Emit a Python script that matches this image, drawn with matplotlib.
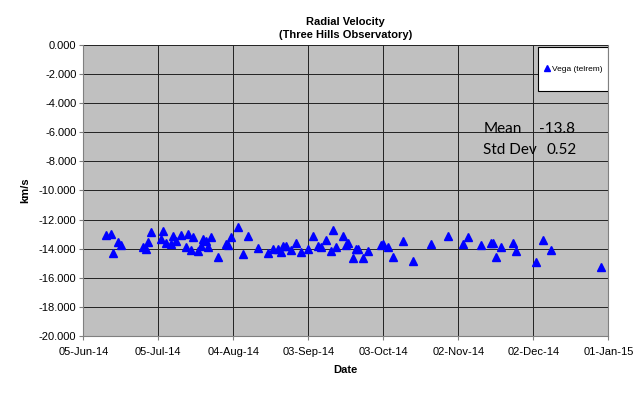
import matplotlib
matplotlib.use('Agg')
import matplotlib.pyplot as plt
import matplotlib.dates as mdates
from matplotlib.patches import Rectangle
import pandas as pd


# dates of the observations
obs_dates = [
    '2014-06-14', '2014-06-16', '2014-06-17', '2014-06-19', '2014-06-20', '2014-06-29', '2014-06-30',
    '2014-07-01', '2014-07-02', '2014-07-06', '2014-07-07', '2014-07-08', '2014-07-10', '2014-07-11',
    '2014-07-12', '2014-07-14', '2014-07-16', '2014-07-17', '2014-07-18', '2014-07-19', '2014-07-21',
    '2014-07-22', '2014-07-23', '2014-07-24', '2014-07-25', '2014-07-26', '2014-07-29', '2014-08-01',
    '2014-08-02', '2014-08-03', '2014-08-06', '2014-08-08', '2014-08-10', '2014-08-14', '2014-08-18',
    '2014-08-20', '2014-08-22', '2014-08-23', '2014-08-24', '2014-08-25', '2014-08-27', '2014-08-29',
    '2014-08-31', '2014-09-03', '2014-09-05', '2014-09-07', '2014-09-08', '2014-09-10', '2014-09-12',
    '2014-09-13', '2014-09-14', '2014-09-17', '2014-09-18', '2014-09-19', '2014-09-21', '2014-09-22',
    '2014-09-23', '2014-09-25', '2014-09-27', '2014-10-02', '2014-10-03', '2014-10-05', '2014-10-07',
    '2014-10-11', '2014-10-15', '2014-10-22', '2014-10-29', '2014-11-04', '2014-11-06', '2014-11-11',
    '2014-11-15', '2014-11-16', '2014-11-17', '2014-11-19', '2014-11-24', '2014-11-25', '2014-12-03',
    '2014-12-06', '2014-12-09', '2014-12-29',
]
# radial velocity, km/s
velocity = [
    -13.07, -12.96, -14.28, -13.53, -13.76, -13.90, -14.05,
    -13.53, -12.87, -13.32, -12.80, -13.60, -13.71, -13.10,
    -13.49, -13.07, -13.87, -12.98, -14.12, -13.18, -14.19,
    -13.83, -13.37, -13.49, -13.87, -13.23, -14.60, -13.69,
    -13.76, -13.21, -12.50, -14.40, -13.12, -13.94, -14.28,
    -14.05, -14.05, -14.24, -13.85, -13.83, -14.08, -13.62,
    -14.24, -14.05, -13.12, -13.83, -13.90, -13.44, -14.17,
    -12.75, -13.90, -13.16, -13.73, -13.60, -14.62, -13.99,
    -14.03, -14.62, -14.14, -13.73, -13.66, -13.90, -14.57,
    -13.49, -14.88, -13.69, -13.12, -13.66, -13.21, -13.76,
    -13.58, -13.58, -14.57, -13.90, -13.62, -14.14, -14.91,
    -13.42, -14.08, -15.24,
]
x_ticks = ['2014-06-05', '2014-07-05', '2014-08-04', '2014-09-03', '2014-10-03',
           '2014-11-02', '2014-12-02', '2015-01-01']
mean_text = '-13.8'
std_text = '0.52'

plt.rcParams['font.family'] = ['Liberation Sans', 'DejaVu Sans']

fig = plt.figure(figsize=(6.4, 3.93), dpi=100)
ax = fig.add_axes([0.1302, 0.145, 0.8203, 0.741])
ax.set_facecolor('#C0C0C0')

dates = pd.to_datetime(obs_dates)
ticks = pd.to_datetime(x_ticks)

ax.plot(dates, velocity, linestyle='none', marker='^', markersize=5.3,
        color='#0000FF', label='Vega (telrem)', zorder=3)

ax.set_xlim(ticks[0], ticks[-1])
ax.set_ylim(-20, 0)
ax.set_xticks(ticks)
ax.xaxis.set_major_formatter(mdates.DateFormatter('%d-%b-%y'))
ax.set_yticks(range(-20, 1, 2))
ax.yaxis.set_major_formatter(plt.FormatStrFormatter('%.3f'))
ax.tick_params(labelsize=8, length=3, color='#808080', pad=2)
ax.tick_params(axis='x', pad=5)

ax.grid(True, color='#222222', linewidth=0.7)
ax.set_axisbelow(True)
for side in ['left', 'bottom', 'right', 'top']:
    ax.spines[side].set_color('#808080')
ax.spines['top'].set_visible(False)

ax.set_xlabel('Date', fontsize=8, fontweight='bold', labelpad=6)
ax.set_ylabel('km/s', fontsize=8, fontweight='bold', labelpad=6)
ax.set_title('Radial Velocity\n(Three Hills Observatory)', fontsize=8,
             fontweight='bold', pad=5, linespacing=1.3)

# legend box in the top right corner
ax.add_patch(Rectangle((0.866, 0.84), 0.134, 0.152, transform=ax.transAxes,
                       facecolor='white', edgecolor='black', linewidth=0.8, zorder=4))
leg = ax.legend(loc='center', bbox_to_anchor=(0.933, 0.916), frameon=False,
                fontsize=6, handletextpad=0.1, handlelength=1, markerscale=0.7)
leg.set_zorder(5)

ax.text(0.762, 0.71, 'Mean', transform=ax.transAxes, fontsize=11,
        family=['Lato', 'DejaVu Sans'], va='center', zorder=5)
ax.text(0.868, 0.71, mean_text, transform=ax.transAxes, fontsize=11,
        family=['Lato', 'DejaVu Sans'], va='center', zorder=5)
ax.text(0.762, 0.64, 'Std Dev', transform=ax.transAxes, fontsize=11,
        family=['Lato', 'DejaVu Sans'], va='center', zorder=5)
ax.text(0.882, 0.64, std_text, transform=ax.transAxes, fontsize=11,
        family=['Lato', 'DejaVu Sans'], va='center', zorder=5)

fig.savefig('out.png', dpi=100)
